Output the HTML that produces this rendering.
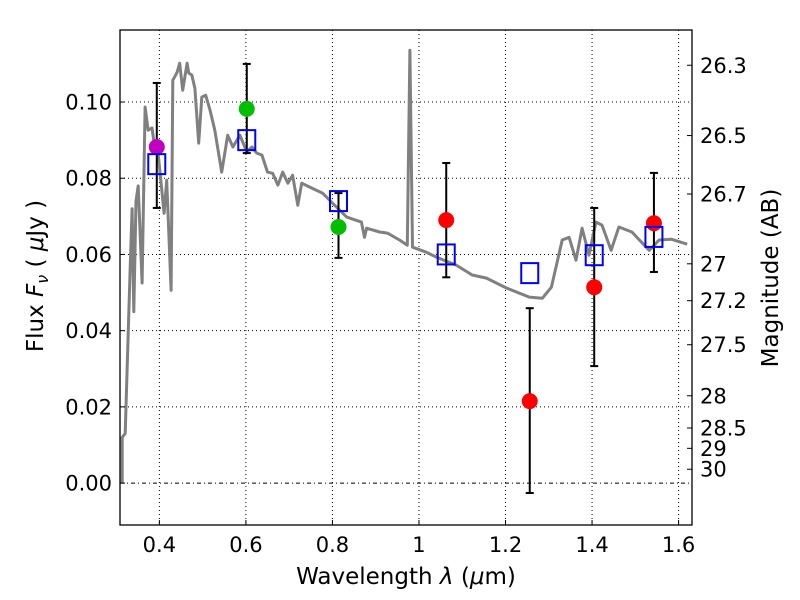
<!DOCTYPE html>
<html><head><meta charset="utf-8"><style>
html,body{margin:0;padding:0;background:#fff;}
svg{display:block;font-family:"DejaVu Sans","Liberation Sans",sans-serif;}
</style></head><body>
<svg id="chart" width="800" height="600" viewBox="0 0 800 600" xmlns="http://www.w3.org/2000/svg">
<rect x="0" y="0" width="800" height="600" fill="#fff"/>
<g id="grid"></g>
<g id="spec"></g>
<g id="marks"></g>
<g id="axes"></g>
<text x="406" y="584" font-size="23" text-anchor="middle">Wavelength  <tspan font-style="italic">λ</tspan> (<tspan font-style="italic">μ</tspan>m)</text>
<text transform="translate(43,276) rotate(-90)" font-size="23" text-anchor="middle">Flux  <tspan font-style="italic">F</tspan><tspan font-style="italic" font-size="16" dy="5">ν</tspan><tspan dy="-5">  ( </tspan><tspan font-style="italic">μ</tspan>Jy )</text>
<text transform="translate(778,278) rotate(-90)" font-size="23" text-anchor="middle">Magnitude (AB)</text>
</svg>
<script>
const specWave=[0.314,0.314,0.321,0.332,0.337,0.341,0.346,0.351,0.360,0.367,0.374,0.383,0.387,0.397,0.411,0.417,0.427,0.431,0.441,0.447,0.454,0.464,0.468,0.475,0.482,0.491,0.498,0.507,0.517,0.528,0.544,0.558,0.570,0.586,0.602,0.614,0.625,0.637,0.650,0.662,0.674,0.685,0.697,0.708,0.720,0.729,0.747,0.777,0.800,0.833,0.867,0.874,0.879,0.909,0.927,0.955,0.973,0.979,0.985,1.017,1.040,1.086,1.123,1.156,1.202,1.255,1.285,1.306,1.331,1.347,1.363,1.377,1.393,1.409,1.423,1.444,1.462,1.492,1.532,1.555,1.583,1.620];
const specFlux=[0.000,0.012,0.013,0.055,0.072,0.045,0.074,0.078,0.0525,0.0987,0.0926,0.0932,0.090,0.0866,0.0708,0.0795,0.0506,0.1057,0.1078,0.1102,0.1031,0.1102,0.1076,0.1071,0.1036,0.0892,0.1013,0.1018,0.0979,0.0926,0.0816,0.0913,0.0882,0.0913,0.0869,0.0882,0.0866,0.0861,0.0816,0.0813,0.0782,0.0816,0.0787,0.0808,0.0729,0.0787,0.0777,0.0761,0.0735,0.0698,0.0685,0.0645,0.0669,0.0659,0.0656,0.0638,0.0624,0.1136,0.0619,0.0606,0.0593,0.0572,0.0546,0.0538,0.0512,0.0488,0.0485,0.0514,0.0638,0.0645,0.0585,0.0669,0.0598,0.0685,0.0677,0.0611,0.0672,0.0659,0.0611,0.0638,0.0640,0.0627];
const photWave=[0.394,0.602,0.814,1.063,1.256,1.405,1.543];
const photFlux=[0.0882,0.0982,0.0672,0.0690,0.0215,0.0514,0.0682];
const photErrHi=[0.105,0.110,0.0761,0.084,0.0459,0.0722,0.0814];
const photErrLo=[0.0722,0.0866,0.0591,0.054,-0.0026,0.0307,0.0554];
const photColor=['#bf00bf','#00bf00','#00bf00','#ff0000','#ff0000','#ff0000','#ff0000'];
const modelFlux=[0.0837,0.0900,0.0740,0.0600,0.0551,0.0598,0.0646];
const xTicks=[0.4,0.6,0.8,1.0,1.2,1.4,1.6];
const xTickLabels=['0.4','0.6','0.8','1','1.2','1.4','1.6'];
const yTicks=[0.00,0.02,0.04,0.06,0.08,0.10];
const yTickLabels=['0.00','0.02','0.04','0.06','0.08','0.10'];
const magTicks=[26.3,26.5,26.7,27,27.2,27.5,28,28.5,29,30];

const L=120,R=692,T=30,B=525;
const X0=0.309,X1=1.631,Y0=-0.0110,Y1=0.1189;
function sx(v){return L+(v-X0)/(X1-X0)*(R-L);}
function sy(v){return B-(v-Y0)/(Y1-Y0)*(B-T);}
const NS='http://www.w3.org/2000/svg';
function mk(tag,attrs,parent){const e=document.createElementNS(NS,tag);for(const k in attrs)e.setAttribute(k,attrs[k]);parent.appendChild(e);return e;}
const grid=document.getElementById('grid'),spec=document.getElementById('spec'),marks=document.getElementById('marks'),axes=document.getElementById('axes');

xTicks.forEach((v,i)=>{
  const g=mk('line',{x1:sx(v),x2:sx(v),y1:T,y2:B,stroke:'#000','stroke-width':1,'stroke-dasharray':'1,3'},grid);
  
  
  const t=mk('line',{x1:sx(v),x2:sx(v),y1:B,y2:B-5,stroke:'#000','stroke-width':1},axes);
  
  
  const lb=mk('text',{x:sx(v),y:B+27,'font-size':21,'text-anchor':'middle'},axes);
  lb.textContent=xTickLabels[i];
  
  
});
yTicks.forEach((v,i)=>{
  const g=mk('line',{x1:L,x2:R,y1:sy(v),y2:sy(v),stroke:'#000','stroke-width':1,'stroke-dasharray':v===0?'4,3,1,3':'1,3'},grid);
  
  
  const t=mk('line',{x1:L,x2:L+5,y1:sy(v),y2:sy(v),stroke:'#000','stroke-width':1},axes);
  
  
  const lb=mk('text',{x:L-8,y:sy(v)+7.5,'font-size':21,'text-anchor':'end'},axes);
  lb.textContent=yTickLabels[i];
  
  
});
magTicks.forEach(m=>{
  const f=Math.pow(10,(23.9-m)/2.5);
  const y=sy(f);
  const t=mk('line',{x1:R,x2:R-5,y1:y,y2:y,stroke:'#000','stroke-width':1},axes);
  
  
  const lb=mk('text',{x:R+8,y:y+7.5,'font-size':21},axes);
  lb.textContent=String(m);
  
  
});

let d='';
specWave.forEach((w,i)=>{d+=(i?'L':'M')+sx(w).toFixed(1)+' '+sy(specFlux[i]).toFixed(1);});
const p=mk('path',{d:d,fill:'none',stroke:'#808080','stroke-width':3,'stroke-linejoin':'round'},spec);



photWave.forEach((w,i)=>{
  const x=sx(w);
  const eb=mk('g',{},marks);
  
  
  mk('line',{x1:x,x2:x,y1:sy(photErrHi[i]),y2:sy(photErrLo[i]),stroke:'#000','stroke-width':2},eb);
  mk('line',{x1:x-4,x2:x+4,y1:sy(photErrHi[i]),y2:sy(photErrHi[i]),stroke:'#000','stroke-width':2},eb);
  mk('line',{x1:x-4,x2:x+4,y1:sy(photErrLo[i]),y2:sy(photErrLo[i]),stroke:'#000','stroke-width':2},eb);
  const c=mk('circle',{cx:x,cy:sy(photFlux[i]),r:8,fill:photColor[i]},marks);
  
  
  const s=mk('rect',{x:x-8.5,y:sy(modelFlux[i])-10,width:17,height:20,fill:'none',stroke:'#0000ff','stroke-width':2},marks);
  
  
});
const fr=mk('rect',{x:L,y:T,width:R-L,height:B-T,fill:'none',stroke:'#000','stroke-width':1.3},axes);


</script>
</body></html>
